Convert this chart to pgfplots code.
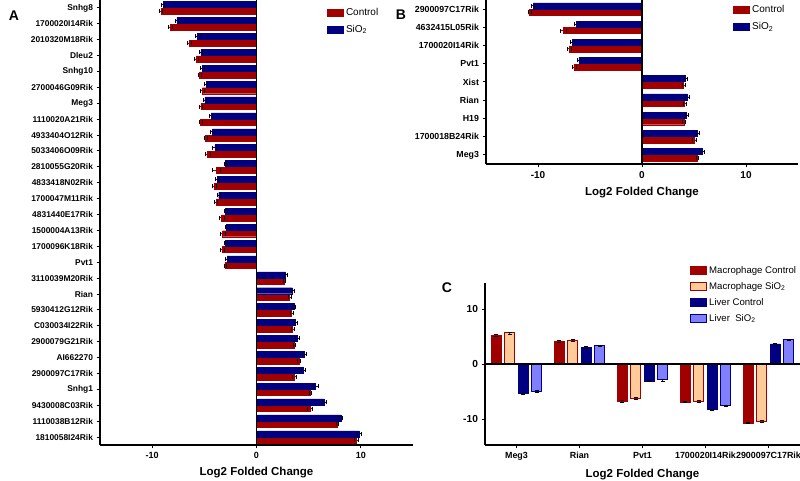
\documentclass[border=0pt]{standalone}
\usepackage{fontspec}
\setmainfont{Liberation Sans}
\usepackage{pgfplots}
\usepackage{pgfplotstable}
\pgfplotsset{compat=1.18}

\definecolor{ctrlred}{RGB}{160,0,0}
\definecolor{navy}{RGB}{0,0,128}
\definecolor{peach}{RGB}{255,204,153}
\definecolor{lightblue}{RGB}{128,128,255}

% panel A, pos 27 = top row
\pgfplotstableread{
pos ctrl cerr sio2 serr
27 -9.15 0.15 -8.95 0.15
26 -8.27 0.15 -7.63 0.15
25 -6.44 0.20 -5.64 0.20
24 -5.77 0.20 -5.32 0.15
23 -5.48 0.15 -5.19 0.20
22 -5.19 0.20 -4.84 0.15
21 -5.32 0.15 -4.94 0.15
20 -5.35 0.15 -4.36 0.15
19 -4.90 0.15 -4.23 0.20
18 -4.68 0.25 -4.00 0.20
17 -3.85 0.35 -2.98 0.10
16 -4.07 0.20 -3.78 0.15
15 -3.88 0.15 -3.62 0.15
14 -3.37 0.25 -2.98 0.15
13 -3.24 0.20 -2.88 0.15
12 -3.30 0.20 -2.98 0.15
11 -3.04 0.10 -2.82 0.15
10 2.63 0.10 2.79 0.15
9 3.17 0.15 3.43 0.15
8 3.37 0.10 3.59 0.15
7 3.43 0.15 3.72 0.15
6 3.65 0.10 3.91 0.20
5 4.07 0.15 4.55 0.20
4 3.65 0.20 4.49 0.20
3 5.19 0.10 5.67 0.20
2 5.13 0.25 6.47 0.20
1 7.76 0.10 8.08 0.15
0 9.52 0.20 9.84 0.15
}\tabA

% panel B
\pgfplotstableread{
pos ctrl cerr sio2 serr
8 -10.80 0.10 -10.48 0.15
7 -7.58 0.25 -6.29 0.25
6 -7.00 0.15 -6.68 0.20
5 -6.55 0.20 -6.06 0.20
4 3.97 0.15 4.19 0.15
3 4.10 0.15 4.35 0.15
2 4.03 0.15 4.29 0.15
1 5.00 0.20 5.32 0.15
0 5.32 0.10 5.81 0.20
}\tabB

% panel C
\pgfplotstableread{
x mc mce ms mse lc lce ls lse
0 5.24 0.15 5.67 0.20 -5.30 0.15 -4.88 0.15
1 4.15 0.15 4.33 0.15 3.11 0.15 3.35 0.15
2 -6.70 0.15 -6.22 0.20 -3.05 0.10 -2.87 0.15
3 -6.89 0.10 -6.70 0.15 -8.23 0.10 -7.56 0.10
4 -10.67 0.10 -10.37 0.15 3.66 0.15 4.45 0.15
}\tabC

\pgfplotsset{
  panel/.style={
    scale only axis, anchor=south west,
    axis x line*=bottom, axis y line*=left,
    axis line style={line width=1.3pt},
    tick align=outside, major tick length=3.5pt,
    major tick style={line width=1pt, black},
    /pgf/number format/assume math mode=true,
    xlabel style={font=\bfseries\fontsize{11.5}{13}\selectfont, yshift=-2pt},
    legend style={draw=none, fill=none, font=\fontsize{10}{12}\selectfont,
      inner sep=0pt, row sep=3pt,
      nodes={inner sep=2pt, text height=7.5pt, text depth=2.5pt}},
    legend cell align=left,
    error bars/error bar style={line width=0.8pt},
  },
  boxlegend/.style={
    legend image code/.code={\draw[##1, line width=0.9pt] (0pt,-3.5pt) rectangle (16pt,4pt);},
  },
}

\begin{document}
\begin{tikzpicture}
\useasboundingbox (0,0) rectangle (800pt,481pt);

% ---------- A ----------
\begin{axis}[panel,
  at={(100pt,36pt)}, width=313pt, height=445pt,
  xbar, bar width=6pt, boxlegend,
  xmin=-15, xmax=15, ymin=-0.5, ymax=27.5,
  xtick={-10,0,10}, ytick={0,...,27},
  yticklabels={1810058I24Rik,1110038B12Rik,9430008C03Rik,Snhg1,2900097C17Rik,AI662270,2900079G21Rik,C030034I22Rik,5930412G12Rik,Rian,3110039M20Rik,Pvt1,1700096K18Rik,1500004A13Rik,4831440E17Rik,1700047M11Rik,4833418N02Rik,2810055G20Rik,5033406O09Rik,4933404O12Rik,1110020A21Rik,Meg3,2700046G09Rik,Snhg10,Dleu2,2010320M18Rik,1700020I14Rik,Snhg8},
  yticklabel style={font=\bfseries\fontsize{8.4}{9}\selectfont},
  xticklabel style={font=\bfseries\fontsize{9}{10}\selectfont},
  xlabel={Log2 Folded Change},
  legend style={at={(0.725,0.987)}, anchor=north west},
]
\addplot[draw=ctrlred, fill=ctrlred, bar shift=-3.3pt,
  error bars/.cd, x dir=both, x explicit]
  table[x=ctrl, y=pos, x error=cerr] {\tabA};
\addlegendentry{Control}
\addplot[draw=navy, fill=navy, bar shift=3.3pt,
  error bars/.cd, x dir=both, x explicit]
  table[x=sio2, y=pos, x error=serr] {\tabA};
\addlegendentry{SiO\textsubscript{2}}
\draw[line width=1.3pt] (axis cs:0,-0.5) -- (axis cs:0,27.5);
\end{axis}

% ---------- B ----------
\begin{axis}[panel,
  at={(486pt,317pt)}, width=312pt, height=164pt,
  xbar, bar width=6pt, boxlegend,
  xmin=-15, xmax=15, ymin=-0.5, ymax=8.5,
  xtick={-10,0,10}, ytick={0,...,8},
  yticklabels={Meg3,1700018B24Rik,H19,Rian,Xist,Pvt1,1700020I14Rik,4632415L05Rik,2900097C17Rik},
  yticklabel style={font=\bfseries\fontsize{8.8}{10}\selectfont},
  xticklabel style={font=\bfseries\fontsize{10}{11}\selectfont},
  xlabel={Log2 Folded Change},
  legend style={at={(0.792,0.982)}, anchor=north west},
]
\addplot[draw=ctrlred, fill=ctrlred, bar shift=-3.3pt,
  error bars/.cd, x dir=both, x explicit]
  table[x=ctrl, y=pos, x error=cerr] {\tabB};
\addlegendentry{Control}
\addplot[draw=navy, fill=navy, bar shift=3.3pt,
  error bars/.cd, x dir=both, x explicit]
  table[x=sio2, y=pos, x error=serr] {\tabB};
\addlegendentry{SiO\textsubscript{2}}
\draw[line width=1.3pt] (axis cs:0,-0.5) -- (axis cs:0,8.5);
\end{axis}

% ---------- C ----------
\begin{axis}[panel,
  at={(485pt,36pt)}, width=315pt, height=162.3pt,
  ybar, bar width=10pt, boxlegend,
  xmin=-0.5, xmax=4.5, ymin=-14.7, ymax=14.8,
  xtick={0,...,4}, ytick={-10,0,10},
  xticklabels={Meg3,Rian,Pvt1,1700020I14Rik,2900097C17Rik},
  xticklabel style={font=\bfseries\fontsize{8.9}{11}\selectfont},
  yticklabel style={font=\bfseries\fontsize{10.2}{11}\selectfont},
  xlabel={Log2 Folded Change},
  clip=false,
  legend style={at={(0.651,1.118)}, anchor=north west, row sep=2pt,
    font=\fontsize{9.6}{11}\selectfont},
]
\addplot[draw=ctrlred, fill=ctrlred, bar shift=-20.25pt,
  error bars/.cd, y dir=both, y explicit]
  table[x=x, y=mc, y error=mce] {\tabC};
\addlegendentry{Macrophage Control}
\addplot[draw=ctrlred, fill=peach, line width=0.9pt, bar shift=-6.75pt,
  error bars/.cd, y dir=both, y explicit]
  table[x=x, y=ms, y error=mse] {\tabC};
\addlegendentry{Macrophage SiO\textsubscript{2}}
\addplot[draw=navy, fill=navy, bar shift=6.75pt,
  error bars/.cd, y dir=both, y explicit]
  table[x=x, y=lc, y error=lce] {\tabC};
\addlegendentry{Liver Control}
\addplot[draw=navy, fill=lightblue, line width=0.9pt, bar shift=20.25pt,
  error bars/.cd, y dir=both, y explicit]
  table[x=x, y=ls, y error=lse] {\tabC};
\addlegendentry{Liver\ \ SiO\textsubscript{2}}
\draw[line width=1.3pt] (axis cs:-0.5,0) -- (axis cs:4.5,0);
\end{axis}

\node[font=\bfseries\fontsize{14}{16}\selectfont] at (14pt,465pt) {A};
\node[font=\bfseries\fontsize{14}{16}\selectfont] at (401pt,466pt) {B};
\node[font=\bfseries\fontsize{14}{16}\selectfont] at (447pt,193pt) {C};
\end{tikzpicture}
\end{document}
